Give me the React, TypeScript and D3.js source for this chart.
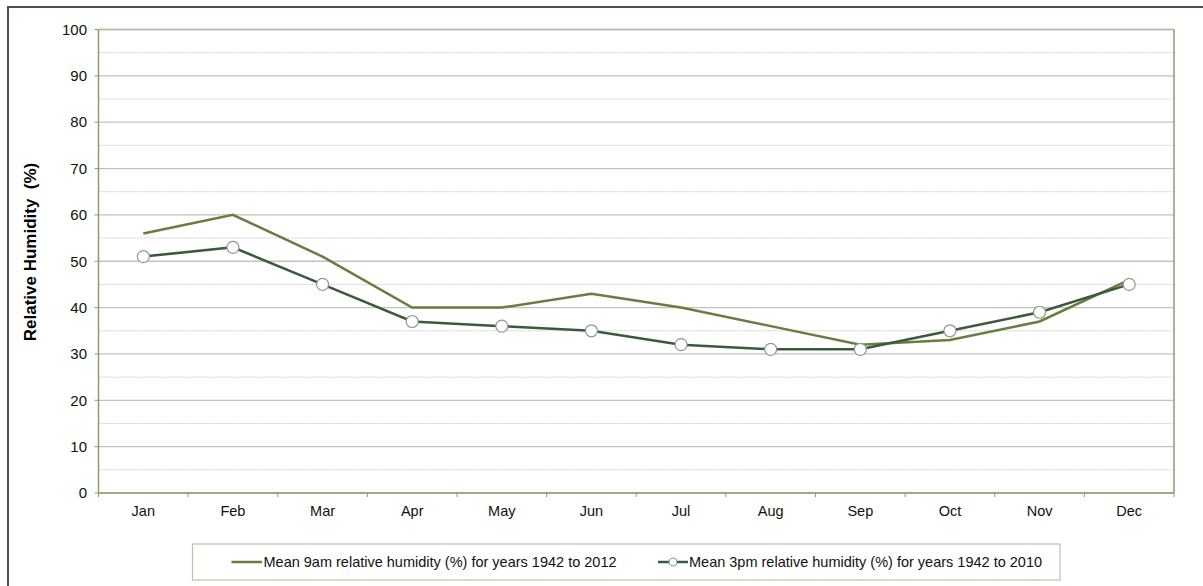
import React from "react";
import * as d3 from "d3";

const months = ["Jan", "Feb", "Mar", "Apr", "May", "Jun", "Jul", "Aug", "Sep", "Oct", "Nov", "Dec"];
const humidity9am = [56, 60, 51, 40, 40, 43, 40, 36, 32, 33, 37, 46];
const humidity3pm = [51, 53, 45, 37, 36, 35, 32, 31, 31, 35, 39, 45];
const yTicks = [0, 10, 20, 30, 40, 50, 60, 70, 80, 90, 100];
const yMinor = [5, 15, 25, 35, 45, 55, 65, 75, 85, 95];
const label9am = "Mean 9am relative humidity (%) for years 1942 to 2012";
const label3pm = "Mean 3pm relative humidity (%) for years 1942 to 2010";

const W = 1203;
const H = 586;
const plot = { left: 98.5, right: 1174, top: 29.5, bottom: 493 };
const color9am = "#687d3e";
const color3pm = "#3b5a3c";
const axisColor = "#8c9c6c";
const font = "'Liberation Sans', Arial, sans-serif";

export default function App() {
  const x = d3.scaleBand<string>().domain(months).range([plot.left, plot.right]);
  const y = d3.scaleLinear().domain([0, 100]).range([plot.bottom, plot.top]);
  const cx = (m: string) => (x(m) ?? 0) + x.bandwidth() / 2;
  const line = d3
    .line<number>()
    .x((_, i) => cx(months[i]))
    .y((v) => y(v));

  const boundaries = d3.range(months.length + 1).map((i) => plot.left + i * x.bandwidth());

  return (
    <svg
      width={W}
      height={H}
      style={{ position: "absolute", left: 0, top: 0, fontFamily: font }}
    >
      <rect x={0} y={0} width={W} height={H} fill="#ffffff" />
      {/* outer frame */}
      <rect x={8} y={7} width={W + 10} height={H + 10} fill="none" stroke="#3f5a3a" strokeWidth={2} />

      {/* minor gridlines */}
      {yMinor.map((v) => (
        <line
          key={"mi" + v}
          x1={plot.left}
          x2={plot.right}
          y1={y(v)}
          y2={y(v)}
          stroke="#cfcfcf"
          strokeWidth={1}
          strokeDasharray="2,1"
        />
      ))}
      {/* major gridlines */}
      {yTicks.map((v) => (
        <line
          key={"ma" + v}
          x1={plot.left}
          x2={plot.right}
          y1={y(v)}
          y2={y(v)}
          stroke="#c2c2c2"
          strokeWidth={1.3}
        />
      ))}

      {/* plot border */}
      <line x1={plot.left} x2={plot.right} y1={plot.top} y2={plot.top} stroke="#b4bca0" strokeWidth={1.5} />
      <line x1={plot.right} x2={plot.right} y1={plot.top} y2={plot.bottom} stroke={axisColor} strokeWidth={1.5} />
      <line x1={plot.left} x2={plot.left} y1={plot.top} y2={plot.bottom} stroke={axisColor} strokeWidth={1.5} />
      <line x1={plot.left} x2={plot.right} y1={plot.bottom} y2={plot.bottom} stroke={axisColor} strokeWidth={1.5} />

      {/* y ticks */}
      {yTicks.map((v) => (
        <g key={"yt" + v}>
          <line x1={plot.left - 4} x2={plot.left} y1={y(v)} y2={y(v)} stroke={axisColor} strokeWidth={1} />
          <text x={87} y={y(v)} dy="0.35em" textAnchor="end" fontSize={15} fill="#111">
            {v}
          </text>
        </g>
      ))}

      {/* x ticks */}
      {boundaries.map((bx, i) => (
        <line key={"xt" + i} x1={bx} x2={bx} y1={plot.bottom} y2={plot.bottom + 4} stroke={axisColor} strokeWidth={1} />
      ))}
      {months.map((m) => (
        <text key={"xl" + m} x={cx(m)} y={516} textAnchor="middle" fontSize={14.5} fill="#111">
          {m}
        </text>
      ))}

      {/* y axis title */}
      <text
        transform={`translate(36, 252) rotate(-90)`}
        textAnchor="middle"
        fontSize={17}
        fontWeight="bold"
        fill="#000"
        style={{ whiteSpace: "pre" }}
      >
        {"Relative Humidity  (%)"}
      </text>

      {/* series */}
      <path d={line(humidity9am) ?? ""} fill="none" stroke={color9am} strokeWidth={2.5} />
      <path d={line(humidity3pm) ?? ""} fill="none" stroke={color3pm} strokeWidth={2.5} />
      {humidity3pm.map((v, i) => (
        <circle key={"pt" + i} cx={cx(months[i])} cy={y(v)} r={6} fill="#ffffff" stroke="#8f9a8f" strokeWidth={1.2} />
      ))}

      {/* legend */}
      <rect x={192.5} y={544} width={867.5} height={36} fill="#ffffff" stroke="#bcc4a8" strokeWidth={1.2} />
      <line x1={231.5} x2={262} y1={562} y2={562} stroke={color9am} strokeWidth={2.5} />
      <text x={263.5} y={562} dy="0.35em" fontSize={14.5} fill="#111">
        {label9am}
      </text>
      <line x1={658} x2={688} y1={562} y2={562} stroke={color3pm} strokeWidth={2.5} />
      <circle cx={673} cy={562} r={4} fill="#ffffff" stroke="#8f9a8f" strokeWidth={1} />
      <text x={689} y={562} dy="0.35em" fontSize={14.5} fill="#111">
        {label3pm}
      </text>
    </svg>
  );
}
